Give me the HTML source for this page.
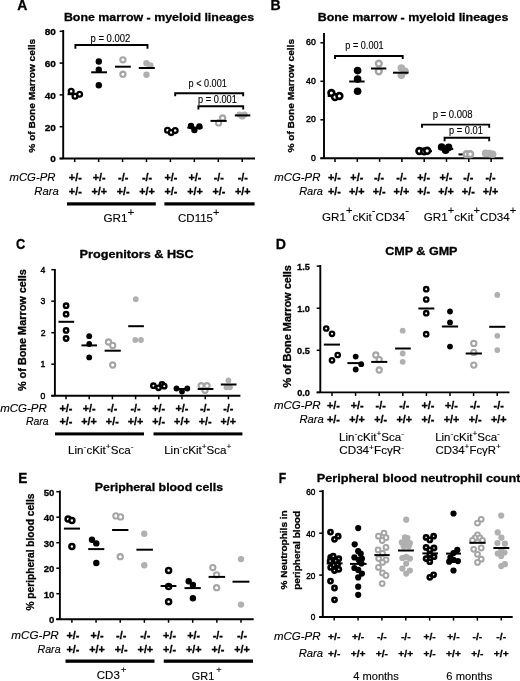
<!DOCTYPE html>
<html><head><meta charset="utf-8"><style>
html,body{margin:0;padding:0;background:#fff;width:520px;height:681px;overflow:hidden}
svg{display:block;filter:grayscale(1)}
text{font-family:"Liberation Sans", sans-serif}
text[font-weight=bold]{stroke:#000;stroke-width:0.3px}
text[font-weight=normal]{stroke:#000;stroke-width:0.12px}
text[font-weight=mid]{stroke:#000;stroke-width:0.45px}
</style></head><body>
<svg width="520" height="681" viewBox="0 0 520 681" font-family='"Liberation Sans", sans-serif'>
<rect width="520" height="681" fill="#fff"/>
<text transform="translate(17.35,10.10) scale(0.9254,1)" font-size="15" font-weight="bold" font-style="normal" fill="#000">A</text>
<text transform="translate(63.89,20.50) scale(1.0698,1)" font-size="11.6" font-weight="bold" font-style="normal" fill="#000">Bone marrow - myeloid lineages</text>
<line x1="63.20" y1="30.00" x2="63.20" y2="158.50" stroke="#000" stroke-width="1.9"/>
<line x1="59.60" y1="158.50" x2="255.00" y2="158.50" stroke="#000" stroke-width="1.9"/>
<line x1="59.60" y1="158.50" x2="63.20" y2="158.50" stroke="#000" stroke-width="1.5"/>
<text transform="translate(50.33,162.40) scale(1.0800,1)" font-size="9.3" font-weight="bold" font-style="normal" fill="#000">0</text>
<line x1="59.60" y1="126.70" x2="63.20" y2="126.70" stroke="#000" stroke-width="1.5"/>
<text transform="translate(44.75,130.60) scale(1.0800,1)" font-size="9.3" font-weight="bold" font-style="normal" fill="#000">20</text>
<line x1="59.60" y1="94.90" x2="63.20" y2="94.90" stroke="#000" stroke-width="1.5"/>
<text transform="translate(44.75,98.80) scale(1.0800,1)" font-size="9.3" font-weight="bold" font-style="normal" fill="#000">40</text>
<line x1="59.60" y1="63.10" x2="63.20" y2="63.10" stroke="#000" stroke-width="1.5"/>
<text transform="translate(44.75,67.00) scale(1.0800,1)" font-size="9.3" font-weight="bold" font-style="normal" fill="#000">60</text>
<line x1="59.60" y1="31.30" x2="63.20" y2="31.30" stroke="#000" stroke-width="1.5"/>
<text transform="translate(44.75,35.20) scale(1.0800,1)" font-size="9.3" font-weight="bold" font-style="normal" fill="#000">80</text>
<line x1="74.70" y1="158.50" x2="74.70" y2="162.10" stroke="#000" stroke-width="1.5"/>
<line x1="98.63" y1="158.50" x2="98.63" y2="162.10" stroke="#000" stroke-width="1.5"/>
<line x1="122.56" y1="158.50" x2="122.56" y2="162.10" stroke="#000" stroke-width="1.5"/>
<line x1="146.49" y1="158.50" x2="146.49" y2="162.10" stroke="#000" stroke-width="1.5"/>
<line x1="170.42" y1="158.50" x2="170.42" y2="162.10" stroke="#000" stroke-width="1.5"/>
<line x1="194.35" y1="158.50" x2="194.35" y2="162.10" stroke="#000" stroke-width="1.5"/>
<line x1="218.28" y1="158.50" x2="218.28" y2="162.10" stroke="#000" stroke-width="1.5"/>
<line x1="242.21" y1="158.50" x2="242.21" y2="162.10" stroke="#000" stroke-width="1.5"/>
<text transform="translate(34.60,152.65) rotate(-90) scale(1.0350,1)" font-size="9.8" font-weight="bold">% of Bone Marrow cells</text>
<text transform="translate(68.85,181.30) scale(1.0800,1)" font-size="10.0" font-weight="bold" font-style="normal" fill="#000">+/-</text>
<text transform="translate(68.85,194.60) scale(1.0800,1)" font-size="10.0" font-weight="bold" font-style="normal" fill="#000">+/-</text>
<text transform="translate(92.78,181.30) scale(1.0800,1)" font-size="10.0" font-weight="bold" font-style="normal" fill="#000">+/-</text>
<text transform="translate(91.43,194.60) scale(1.0800,1)" font-size="10.0" font-weight="bold" font-style="normal" fill="#000">+/+</text>
<text transform="translate(118.06,181.30) scale(1.0800,1)" font-size="10.0" font-weight="bold" font-style="normal" fill="#000">-/-</text>
<text transform="translate(116.71,194.60) scale(1.0800,1)" font-size="10.0" font-weight="bold" font-style="normal" fill="#000">+/-</text>
<text transform="translate(141.99,181.30) scale(1.0800,1)" font-size="10.0" font-weight="bold" font-style="normal" fill="#000">-/-</text>
<text transform="translate(139.29,194.60) scale(1.0800,1)" font-size="10.0" font-weight="bold" font-style="normal" fill="#000">+/+</text>
<text transform="translate(164.57,181.30) scale(1.0800,1)" font-size="10.0" font-weight="bold" font-style="normal" fill="#000">+/-</text>
<text transform="translate(164.57,194.60) scale(1.0800,1)" font-size="10.0" font-weight="bold" font-style="normal" fill="#000">+/-</text>
<text transform="translate(188.50,181.30) scale(1.0800,1)" font-size="10.0" font-weight="bold" font-style="normal" fill="#000">+/-</text>
<text transform="translate(187.15,194.60) scale(1.0800,1)" font-size="10.0" font-weight="bold" font-style="normal" fill="#000">+/+</text>
<text transform="translate(213.78,181.30) scale(1.0800,1)" font-size="10.0" font-weight="bold" font-style="normal" fill="#000">-/-</text>
<text transform="translate(212.43,194.60) scale(1.0800,1)" font-size="10.0" font-weight="bold" font-style="normal" fill="#000">+/-</text>
<text transform="translate(237.71,181.30) scale(1.0800,1)" font-size="10.0" font-weight="bold" font-style="normal" fill="#000">-/-</text>
<text transform="translate(235.01,194.60) scale(1.0800,1)" font-size="10.0" font-weight="bold" font-style="normal" fill="#000">+/+</text>
<text transform="translate(9.53,181.30) scale(1.0992,1)" font-size="10.3" font-weight="normal" font-style="italic" fill="#000">mCG-PR</text>
<text transform="translate(34.36,194.60) scale(1.0957,1)" font-size="10.3" font-weight="normal" font-style="italic" fill="#000">Rara</text>
<rect x="67.00" y="202.30" width="88.80" height="3.20" fill="#000"/>
<rect x="164.40" y="202.30" width="90.20" height="3.20" fill="#000"/>
<text transform="translate(103.51,221.50) scale(1.0661,1)" font-size="11" font-weight="normal"><tspan font-size="11">GR1</tspan><tspan font-size="11" dx="0.0" baseline-shift="6.2">+</tspan></text>
<text transform="translate(178.02,222.00) scale(1.0469,1)" font-size="11" font-weight="normal"><tspan font-size="11">CD115</tspan><tspan font-size="10.5" dx="0.0" baseline-shift="6.2">+</tspan></text>
<line x1="67.50" y1="94.20" x2="82.50" y2="94.20" stroke="#000" stroke-width="2"/>
<circle cx="71.20" cy="91.20" r="2.4" fill="#fff" stroke="#000" stroke-width="2.3"/>
<circle cx="75.00" cy="96.20" r="2.4" fill="#fff" stroke="#000" stroke-width="2.3"/>
<circle cx="79.60" cy="94.20" r="2.4" fill="#fff" stroke="#000" stroke-width="2.3"/>
<circle cx="98.80" cy="61.50" r="3.2" fill="#000"/>
<circle cx="98.80" cy="69.80" r="3.2" fill="#000"/>
<circle cx="98.80" cy="85.20" r="3.2" fill="#000"/>
<line x1="91.20" y1="72.30" x2="107.00" y2="72.30" stroke="#000" stroke-width="2"/>
<circle cx="122.90" cy="59.80" r="2.6" fill="#fff" stroke="#a5a5a5" stroke-width="2.1"/>
<circle cx="122.90" cy="74.20" r="2.6" fill="#fff" stroke="#a5a5a5" stroke-width="2.1"/>
<line x1="115.00" y1="66.70" x2="130.80" y2="66.70" stroke="#000" stroke-width="2"/>
<circle cx="146.50" cy="63.30" r="3.2" fill="#b0b0b0"/>
<circle cx="150.40" cy="65.50" r="3.2" fill="#b0b0b0"/>
<circle cx="146.50" cy="74.80" r="3.2" fill="#b0b0b0"/>
<line x1="138.80" y1="68.00" x2="154.80" y2="68.00" stroke="#000" stroke-width="2"/>
<circle cx="167.50" cy="130.20" r="2.4" fill="#fff" stroke="#000" stroke-width="2.3"/>
<circle cx="171.20" cy="132.60" r="2.4" fill="#fff" stroke="#000" stroke-width="2.3"/>
<circle cx="175.20" cy="130.60" r="2.4" fill="#fff" stroke="#000" stroke-width="2.3"/>
<circle cx="191.00" cy="126.00" r="3.2" fill="#000"/>
<circle cx="194.40" cy="130.00" r="3.2" fill="#000"/>
<circle cx="199.40" cy="126.50" r="3.2" fill="#000"/>
<line x1="187.30" y1="127.60" x2="202.50" y2="127.60" stroke="#000" stroke-width="2"/>
<circle cx="222.60" cy="118.00" r="2.6" fill="#fff" stroke="#a5a5a5" stroke-width="2.1"/>
<circle cx="218.60" cy="122.90" r="2.6" fill="#fff" stroke="#a5a5a5" stroke-width="2.1"/>
<line x1="210.50" y1="120.90" x2="226.70" y2="120.90" stroke="#000" stroke-width="2"/>
<circle cx="239.60" cy="114.60" r="3.2" fill="#b0b0b0"/>
<circle cx="244.60" cy="114.60" r="3.2" fill="#b0b0b0"/>
<circle cx="242.20" cy="116.40" r="3.2" fill="#b0b0b0"/>
<line x1="234.80" y1="115.40" x2="250.30" y2="115.40" stroke="#000" stroke-width="2"/>
<path d="M75.40,48.80 L75.40,45.00 L147.50,45.00 L147.50,48.80" fill="none" stroke="#000" stroke-width="1.9"/>
<text transform="translate(90.48,41.50) scale(0.9323,1)" font-size="10.2" font-weight="normal" font-style="normal" fill="#000">p = 0.002</text>
<path d="M175.20,96.30 L175.20,93.20 L243.20,93.20 L243.20,96.30" fill="none" stroke="#000" stroke-width="1.9"/>
<text transform="translate(188.61,87.20) scale(0.8928,1)" font-size="10.2" font-weight="normal" font-style="normal" fill="#000">p &lt; 0.001</text>
<path d="M198.40,109.60 L198.40,106.30 L243.20,106.30 L243.20,109.60" fill="none" stroke="#000" stroke-width="1.9"/>
<text transform="translate(198.10,102.70) scale(0.9072,1)" font-size="10.2" font-weight="normal" font-style="normal" fill="#000">p = 0.001</text>
<text transform="translate(270.48,10.10) scale(0.9399,1)" font-size="15" font-weight="bold" font-style="normal" fill="#000">B</text>
<text transform="translate(317.69,20.80) scale(1.0738,1)" font-size="11.6" font-weight="bold" font-style="normal" fill="#000">Bone marrow - myeloid lineages</text>
<line x1="324.00" y1="33.00" x2="324.00" y2="158.30" stroke="#000" stroke-width="1.9"/>
<line x1="320.40" y1="158.30" x2="503.30" y2="158.30" stroke="#000" stroke-width="1.9"/>
<line x1="320.40" y1="158.30" x2="324.00" y2="158.30" stroke="#000" stroke-width="1.5"/>
<text transform="translate(310.96,160.70) scale(0.9700,1)" font-size="9.0" font-weight="mid" font-style="normal" fill="#000">0</text>
<line x1="320.40" y1="119.80" x2="324.00" y2="119.80" stroke="#000" stroke-width="1.5"/>
<text transform="translate(306.12,122.20) scale(0.9700,1)" font-size="9.0" font-weight="mid" font-style="normal" fill="#000">20</text>
<line x1="320.40" y1="81.30" x2="324.00" y2="81.30" stroke="#000" stroke-width="1.5"/>
<text transform="translate(306.12,83.70) scale(0.9700,1)" font-size="9.0" font-weight="mid" font-style="normal" fill="#000">40</text>
<line x1="320.40" y1="42.80" x2="324.00" y2="42.80" stroke="#000" stroke-width="1.5"/>
<text transform="translate(306.12,45.20) scale(0.9700,1)" font-size="9.0" font-weight="mid" font-style="normal" fill="#000">60</text>
<line x1="335.00" y1="158.30" x2="335.00" y2="161.90" stroke="#000" stroke-width="1.5"/>
<line x1="357.30" y1="158.30" x2="357.30" y2="161.90" stroke="#000" stroke-width="1.5"/>
<line x1="379.60" y1="158.30" x2="379.60" y2="161.90" stroke="#000" stroke-width="1.5"/>
<line x1="401.90" y1="158.30" x2="401.90" y2="161.90" stroke="#000" stroke-width="1.5"/>
<line x1="424.20" y1="158.30" x2="424.20" y2="161.90" stroke="#000" stroke-width="1.5"/>
<line x1="446.50" y1="158.30" x2="446.50" y2="161.90" stroke="#000" stroke-width="1.5"/>
<line x1="468.80" y1="158.30" x2="468.80" y2="161.90" stroke="#000" stroke-width="1.5"/>
<line x1="491.10" y1="158.30" x2="491.10" y2="161.90" stroke="#000" stroke-width="1.5"/>
<text transform="translate(294.40,152.55) rotate(-90) scale(1.0341,1)" font-size="9.8" font-weight="bold">% of Bone Marrow cells</text>
<text transform="translate(328.05,181.30) scale(1.0800,1)" font-size="10.0" font-weight="bold" font-style="normal" fill="#000">+/-</text>
<text transform="translate(328.05,195.40) scale(1.0800,1)" font-size="10.0" font-weight="bold" font-style="normal" fill="#000">+/-</text>
<text transform="translate(350.35,181.30) scale(1.0800,1)" font-size="10.0" font-weight="bold" font-style="normal" fill="#000">+/-</text>
<text transform="translate(349.00,195.40) scale(1.0800,1)" font-size="10.0" font-weight="bold" font-style="normal" fill="#000">+/+</text>
<text transform="translate(374.00,181.30) scale(1.0800,1)" font-size="10.0" font-weight="bold" font-style="normal" fill="#000">-/-</text>
<text transform="translate(372.65,195.40) scale(1.0800,1)" font-size="10.0" font-weight="bold" font-style="normal" fill="#000">+/-</text>
<text transform="translate(396.30,181.30) scale(1.0800,1)" font-size="10.0" font-weight="bold" font-style="normal" fill="#000">-/-</text>
<text transform="translate(393.60,195.40) scale(1.0800,1)" font-size="10.0" font-weight="bold" font-style="normal" fill="#000">+/+</text>
<text transform="translate(417.25,181.30) scale(1.0800,1)" font-size="10.0" font-weight="bold" font-style="normal" fill="#000">+/-</text>
<text transform="translate(417.25,195.40) scale(1.0800,1)" font-size="10.0" font-weight="bold" font-style="normal" fill="#000">+/-</text>
<text transform="translate(439.55,181.30) scale(1.0800,1)" font-size="10.0" font-weight="bold" font-style="normal" fill="#000">+/-</text>
<text transform="translate(438.20,195.40) scale(1.0800,1)" font-size="10.0" font-weight="bold" font-style="normal" fill="#000">+/+</text>
<text transform="translate(463.20,181.30) scale(1.0800,1)" font-size="10.0" font-weight="bold" font-style="normal" fill="#000">-/-</text>
<text transform="translate(461.85,195.40) scale(1.0800,1)" font-size="10.0" font-weight="bold" font-style="normal" fill="#000">+/-</text>
<text transform="translate(485.50,181.30) scale(1.0800,1)" font-size="10.0" font-weight="bold" font-style="normal" fill="#000">-/-</text>
<text transform="translate(482.80,195.40) scale(1.0800,1)" font-size="10.0" font-weight="bold" font-style="normal" fill="#000">+/+</text>
<text transform="translate(274.33,181.30) scale(1.1040,1)" font-size="10.3" font-weight="normal" font-style="italic" fill="#000">mCG-PR</text>
<text transform="translate(299.17,195.40) scale(1.0680,1)" font-size="10.3" font-weight="normal" font-style="italic" fill="#000">Rara</text>
<text transform="translate(322.02,221.20) scale(1.0578,1)" font-size="11" font-weight="normal"><tspan font-size="11">GR1</tspan><tspan font-size="10.5" dx="0.0" baseline-shift="6.5">+</tspan><tspan font-size="11">cKit</tspan><tspan font-size="10.5" dx="0.0" baseline-shift="6.5">-</tspan><tspan font-size="11">CD34</tspan><tspan font-size="10.5" dx="0.0" baseline-shift="6.5">-</tspan></text>
<text transform="translate(423.82,221.20) scale(1.0566,1)" font-size="11" font-weight="normal"><tspan font-size="11">GR1</tspan><tspan font-size="10.5" dx="0.0" baseline-shift="6.5">+</tspan><tspan font-size="11">cKit</tspan><tspan font-size="10.5" dx="0.0" baseline-shift="6.5">+</tspan><tspan font-size="11">CD34</tspan><tspan font-size="10.5" dx="0.0" baseline-shift="6.5">+</tspan></text>
<line x1="327.70" y1="96.00" x2="343.00" y2="96.00" stroke="#000" stroke-width="2"/>
<circle cx="331.40" cy="93.00" r="2.9" fill="#fff" stroke="#000" stroke-width="2.6"/>
<circle cx="335.00" cy="97.10" r="2.9" fill="#fff" stroke="#000" stroke-width="2.6"/>
<circle cx="339.40" cy="96.00" r="2.9" fill="#fff" stroke="#000" stroke-width="2.6"/>
<circle cx="357.60" cy="70.60" r="3.8" fill="#000"/>
<circle cx="357.60" cy="79.10" r="3.8" fill="#000"/>
<circle cx="357.60" cy="91.30" r="3.8" fill="#000"/>
<line x1="349.20" y1="81.50" x2="364.60" y2="81.50" stroke="#000" stroke-width="2"/>
<circle cx="378.80" cy="63.60" r="2.9" fill="#fff" stroke="#a5a5a5" stroke-width="2.5"/>
<circle cx="378.80" cy="71.30" r="2.9" fill="#fff" stroke="#a5a5a5" stroke-width="2.5"/>
<line x1="371.00" y1="68.50" x2="386.30" y2="68.50" stroke="#000" stroke-width="2"/>
<circle cx="401.40" cy="68.10" r="3.8" fill="#b0b0b0"/>
<circle cx="405.00" cy="71.30" r="3.8" fill="#b0b0b0"/>
<circle cx="401.40" cy="75.30" r="3.8" fill="#b0b0b0"/>
<line x1="393.00" y1="72.70" x2="408.50" y2="72.70" stroke="#000" stroke-width="2"/>
<line x1="416.50" y1="151.20" x2="432.00" y2="151.20" stroke="#000" stroke-width="2"/>
<circle cx="419.40" cy="151.00" r="2.9" fill="#fff" stroke="#000" stroke-width="2.6"/>
<circle cx="424.20" cy="151.40" r="2.9" fill="#fff" stroke="#000" stroke-width="2.6"/>
<circle cx="427.20" cy="150.80" r="2.9" fill="#fff" stroke="#000" stroke-width="2.6"/>
<circle cx="441.60" cy="147.00" r="3.8" fill="#000"/>
<circle cx="445.60" cy="150.20" r="3.8" fill="#000"/>
<circle cx="448.60" cy="147.40" r="3.8" fill="#000"/>
<line x1="438.80" y1="149.00" x2="453.20" y2="149.00" stroke="#000" stroke-width="2"/>
<line x1="458.50" y1="154.40" x2="464.00" y2="154.40" stroke="#000" stroke-width="2"/>
<circle cx="466.50" cy="154.20" r="2.9" fill="#fff" stroke="#a5a5a5" stroke-width="2.5"/>
<circle cx="470.20" cy="154.20" r="2.9" fill="#fff" stroke="#a5a5a5" stroke-width="2.5"/>
<circle cx="485.60" cy="153.40" r="3.8" fill="#b0b0b0"/>
<circle cx="489.40" cy="153.60" r="3.8" fill="#b0b0b0"/>
<circle cx="492.60" cy="154.20" r="3.8" fill="#b0b0b0"/>
<path d="M335.00,59.00 L335.00,56.00 L402.70,56.00 L402.70,59.00" fill="none" stroke="#000" stroke-width="1.9"/>
<text transform="translate(345.31,49.20) scale(0.8952,1)" font-size="10.2" font-weight="normal" font-style="normal" fill="#000">p = 0.001</text>
<path d="M422.00,127.80 L422.00,124.60 L489.20,124.60 L489.20,127.80" fill="none" stroke="#000" stroke-width="1.9"/>
<text transform="translate(432.68,117.50) scale(0.9325,1)" font-size="10.2" font-weight="normal" font-style="normal" fill="#000">p = 0.008</text>
<path d="M444.60,141.20 L444.60,137.70 L489.20,137.70 L489.20,141.20" fill="none" stroke="#000" stroke-width="1.9"/>
<text transform="translate(449.10,133.80) scale(0.9082,1)" font-size="10.2" font-weight="normal" font-style="normal" fill="#000">p = 0.01</text>
<text transform="translate(15.89,249.00) scale(0.8550,1)" font-size="15" font-weight="bold" font-style="normal" fill="#000">C</text>
<text transform="translate(79.47,257.50) scale(1.0948,1)" font-size="11.6" font-weight="bold" font-style="normal" fill="#000">Progenitors &amp; HSC</text>
<line x1="54.90" y1="269.00" x2="54.90" y2="395.70" stroke="#000" stroke-width="1.9"/>
<line x1="51.30" y1="395.70" x2="240.40" y2="395.70" stroke="#000" stroke-width="1.9"/>
<line x1="51.30" y1="395.70" x2="54.90" y2="395.70" stroke="#000" stroke-width="1.5"/>
<text transform="translate(40.50,398.90) scale(0.9200,1)" font-size="9.4" font-weight="mid" font-style="normal" fill="#000">0</text>
<line x1="51.30" y1="364.20" x2="54.90" y2="364.20" stroke="#000" stroke-width="1.5"/>
<text transform="translate(40.59,367.40) scale(0.9200,1)" font-size="9.4" font-weight="mid" font-style="normal" fill="#000">1</text>
<line x1="51.30" y1="332.70" x2="54.90" y2="332.70" stroke="#000" stroke-width="1.5"/>
<text transform="translate(40.63,335.90) scale(0.9200,1)" font-size="9.4" font-weight="mid" font-style="normal" fill="#000">2</text>
<line x1="51.30" y1="301.20" x2="54.90" y2="301.20" stroke="#000" stroke-width="1.5"/>
<text transform="translate(40.55,304.40) scale(0.9200,1)" font-size="9.4" font-weight="mid" font-style="normal" fill="#000">3</text>
<line x1="51.30" y1="269.70" x2="54.90" y2="269.70" stroke="#000" stroke-width="1.5"/>
<text transform="translate(40.46,272.90) scale(0.9200,1)" font-size="9.4" font-weight="mid" font-style="normal" fill="#000">4</text>
<line x1="66.00" y1="395.70" x2="66.00" y2="399.30" stroke="#000" stroke-width="1.5"/>
<line x1="89.20" y1="395.70" x2="89.20" y2="399.30" stroke="#000" stroke-width="1.5"/>
<line x1="112.40" y1="395.70" x2="112.40" y2="399.30" stroke="#000" stroke-width="1.5"/>
<line x1="135.60" y1="395.70" x2="135.60" y2="399.30" stroke="#000" stroke-width="1.5"/>
<line x1="158.80" y1="395.70" x2="158.80" y2="399.30" stroke="#000" stroke-width="1.5"/>
<line x1="182.00" y1="395.70" x2="182.00" y2="399.30" stroke="#000" stroke-width="1.5"/>
<line x1="205.20" y1="395.70" x2="205.20" y2="399.30" stroke="#000" stroke-width="1.5"/>
<line x1="228.40" y1="395.70" x2="228.40" y2="399.30" stroke="#000" stroke-width="1.5"/>
<text transform="translate(26.00,391.07) rotate(-90) scale(1.0878,1)" font-size="10.0" font-weight="bold">% of Bone Marrow cells</text>
<text transform="translate(59.45,411.60) scale(1.0800,1)" font-size="10.0" font-weight="bold" font-style="normal" fill="#000">+/-</text>
<text transform="translate(59.45,425.00) scale(1.0800,1)" font-size="10.0" font-weight="bold" font-style="normal" fill="#000">+/-</text>
<text transform="translate(82.65,411.60) scale(1.0800,1)" font-size="10.0" font-weight="bold" font-style="normal" fill="#000">+/-</text>
<text transform="translate(81.30,425.00) scale(1.0800,1)" font-size="10.0" font-weight="bold" font-style="normal" fill="#000">+/+</text>
<text transform="translate(107.20,411.60) scale(1.0800,1)" font-size="10.0" font-weight="bold" font-style="normal" fill="#000">-/-</text>
<text transform="translate(105.85,425.00) scale(1.0800,1)" font-size="10.0" font-weight="bold" font-style="normal" fill="#000">+/-</text>
<text transform="translate(130.40,411.60) scale(1.0800,1)" font-size="10.0" font-weight="bold" font-style="normal" fill="#000">-/-</text>
<text transform="translate(127.70,425.00) scale(1.0800,1)" font-size="10.0" font-weight="bold" font-style="normal" fill="#000">+/+</text>
<text transform="translate(152.25,411.60) scale(1.0800,1)" font-size="10.0" font-weight="bold" font-style="normal" fill="#000">+/-</text>
<text transform="translate(152.25,425.00) scale(1.0800,1)" font-size="10.0" font-weight="bold" font-style="normal" fill="#000">+/-</text>
<text transform="translate(175.45,411.60) scale(1.0800,1)" font-size="10.0" font-weight="bold" font-style="normal" fill="#000">+/-</text>
<text transform="translate(174.10,425.00) scale(1.0800,1)" font-size="10.0" font-weight="bold" font-style="normal" fill="#000">+/+</text>
<text transform="translate(200.00,411.60) scale(1.0800,1)" font-size="10.0" font-weight="bold" font-style="normal" fill="#000">-/-</text>
<text transform="translate(198.65,425.00) scale(1.0800,1)" font-size="10.0" font-weight="bold" font-style="normal" fill="#000">+/-</text>
<text transform="translate(223.20,411.60) scale(1.0800,1)" font-size="10.0" font-weight="bold" font-style="normal" fill="#000">-/-</text>
<text transform="translate(220.50,425.00) scale(1.0800,1)" font-size="10.0" font-weight="bold" font-style="normal" fill="#000">+/+</text>
<text transform="translate(0.13,411.60) scale(1.1161,1)" font-size="10.3" font-weight="normal" font-style="italic" fill="#000">mCG-PR</text>
<text transform="translate(25.99,425.00) scale(1.0125,1)" font-size="10.3" font-weight="normal" font-style="italic" fill="#000">Rara</text>
<rect x="55.00" y="432.40" width="89.00" height="3.00" fill="#000"/>
<rect x="153.50" y="432.40" width="88.90" height="3.00" fill="#000"/>
<text transform="translate(68.07,453.50) scale(1.1284,1)" font-size="10.3" font-weight="normal"><tspan font-size="10.3">Lin</tspan><tspan font-size="7.5" dx="0.0" baseline-shift="4.5">-</tspan><tspan font-size="10.3">cKit</tspan><tspan font-size="7.5" dx="0.0" baseline-shift="4.5">+</tspan><tspan font-size="10.3">Sca</tspan><tspan font-size="7.5" dx="0.0" baseline-shift="4.5">-</tspan></text>
<text transform="translate(164.17,454.00) scale(1.1238,1)" font-size="10.3" font-weight="normal"><tspan font-size="10.3">Lin</tspan><tspan font-size="7.5" dx="0.0" baseline-shift="4.5">-</tspan><tspan font-size="10.3">cKit</tspan><tspan font-size="7.5" dx="0.0" baseline-shift="4.5">+</tspan><tspan font-size="10.3">Sca</tspan><tspan font-size="7.5" dx="0.0" baseline-shift="4.5">+</tspan></text>
<circle cx="66.10" cy="305.70" r="2.2" fill="#fff" stroke="#000" stroke-width="2.4"/>
<circle cx="66.10" cy="314.20" r="2.2" fill="#fff" stroke="#000" stroke-width="2.4"/>
<circle cx="66.10" cy="330.40" r="2.2" fill="#fff" stroke="#000" stroke-width="2.4"/>
<circle cx="66.10" cy="338.50" r="2.2" fill="#fff" stroke="#000" stroke-width="2.4"/>
<line x1="58.50" y1="321.80" x2="74.20" y2="321.80" stroke="#000" stroke-width="2"/>
<circle cx="89.20" cy="336.20" r="2.9" fill="#000"/>
<circle cx="89.20" cy="344.00" r="2.9" fill="#000"/>
<circle cx="89.20" cy="357.40" r="2.9" fill="#000"/>
<line x1="81.50" y1="345.40" x2="97.00" y2="345.40" stroke="#000" stroke-width="2"/>
<circle cx="108.50" cy="342.00" r="2.6" fill="#fff" stroke="#a5a5a5" stroke-width="2.1"/>
<circle cx="112.70" cy="345.40" r="2.6" fill="#fff" stroke="#a5a5a5" stroke-width="2.1"/>
<circle cx="112.70" cy="365.00" r="2.6" fill="#fff" stroke="#a5a5a5" stroke-width="2.1"/>
<line x1="104.60" y1="350.70" x2="120.80" y2="350.70" stroke="#000" stroke-width="2"/>
<circle cx="135.80" cy="299.20" r="2.9" fill="#b0b0b0"/>
<circle cx="135.30" cy="340.00" r="2.9" fill="#b0b0b0"/>
<circle cx="141.00" cy="340.00" r="2.9" fill="#b0b0b0"/>
<line x1="128.20" y1="326.20" x2="143.90" y2="326.20" stroke="#000" stroke-width="2"/>
<line x1="151.50" y1="386.20" x2="167.00" y2="386.20" stroke="#000" stroke-width="2"/>
<circle cx="153.40" cy="385.70" r="2.2" fill="#fff" stroke="#000" stroke-width="2.4"/>
<circle cx="158.50" cy="387.80" r="2.2" fill="#fff" stroke="#000" stroke-width="2.4"/>
<circle cx="162.00" cy="384.50" r="2.2" fill="#fff" stroke="#000" stroke-width="2.4"/>
<circle cx="164.20" cy="386.20" r="2.2" fill="#fff" stroke="#000" stroke-width="2.4"/>
<circle cx="176.50" cy="388.50" r="2.9" fill="#000"/>
<circle cx="182.00" cy="391.50" r="2.9" fill="#000"/>
<circle cx="187.30" cy="388.50" r="2.9" fill="#000"/>
<line x1="174.50" y1="389.00" x2="190.00" y2="389.00" stroke="#000" stroke-width="2"/>
<circle cx="201.20" cy="385.70" r="2.6" fill="#fff" stroke="#a5a5a5" stroke-width="2.1"/>
<circle cx="207.00" cy="385.70" r="2.6" fill="#fff" stroke="#a5a5a5" stroke-width="2.1"/>
<circle cx="205.00" cy="390.30" r="2.6" fill="#fff" stroke="#a5a5a5" stroke-width="2.1"/>
<line x1="197.70" y1="389.00" x2="213.40" y2="389.00" stroke="#000" stroke-width="2"/>
<circle cx="228.40" cy="380.40" r="2.9" fill="#b0b0b0"/>
<circle cx="226.50" cy="387.30" r="2.9" fill="#b0b0b0"/>
<circle cx="230.00" cy="387.30" r="2.9" fill="#b0b0b0"/>
<line x1="220.80" y1="384.50" x2="236.50" y2="384.50" stroke="#000" stroke-width="2"/>
<text transform="translate(275.68,249.20) scale(0.9431,1)" font-size="15" font-weight="bold" font-style="normal" fill="#000">D</text>
<text transform="translate(385.20,255.00) scale(1.0833,1)" font-size="11.6" font-weight="bold" font-style="normal" fill="#000">CMP &amp; GMP</text>
<line x1="320.30" y1="265.00" x2="320.30" y2="392.40" stroke="#000" stroke-width="1.9"/>
<line x1="316.70" y1="392.40" x2="509.50" y2="392.40" stroke="#000" stroke-width="1.9"/>
<line x1="316.70" y1="392.40" x2="320.30" y2="392.40" stroke="#000" stroke-width="1.5"/>
<text transform="translate(297.21,395.80) scale(1.0200,1)" font-size="9.0" font-weight="bold" font-style="normal" fill="#000">0.0</text>
<line x1="316.70" y1="350.30" x2="320.30" y2="350.30" stroke="#000" stroke-width="1.5"/>
<text transform="translate(297.07,353.70) scale(1.0200,1)" font-size="9.0" font-weight="bold" font-style="normal" fill="#000">0.5</text>
<line x1="316.70" y1="308.20" x2="320.30" y2="308.20" stroke="#000" stroke-width="1.5"/>
<text transform="translate(297.21,311.60) scale(1.0200,1)" font-size="9.0" font-weight="bold" font-style="normal" fill="#000">1.0</text>
<line x1="316.70" y1="266.10" x2="320.30" y2="266.10" stroke="#000" stroke-width="1.5"/>
<text transform="translate(297.07,269.50) scale(1.0200,1)" font-size="9.0" font-weight="bold" font-style="normal" fill="#000">1.5</text>
<line x1="332.00" y1="392.40" x2="332.00" y2="396.00" stroke="#000" stroke-width="1.5"/>
<line x1="355.60" y1="392.40" x2="355.60" y2="396.00" stroke="#000" stroke-width="1.5"/>
<line x1="379.20" y1="392.40" x2="379.20" y2="396.00" stroke="#000" stroke-width="1.5"/>
<line x1="402.80" y1="392.40" x2="402.80" y2="396.00" stroke="#000" stroke-width="1.5"/>
<line x1="426.40" y1="392.40" x2="426.40" y2="396.00" stroke="#000" stroke-width="1.5"/>
<line x1="450.00" y1="392.40" x2="450.00" y2="396.00" stroke="#000" stroke-width="1.5"/>
<line x1="473.60" y1="392.40" x2="473.60" y2="396.00" stroke="#000" stroke-width="1.5"/>
<line x1="497.20" y1="392.40" x2="497.20" y2="396.00" stroke="#000" stroke-width="1.5"/>
<text transform="translate(291.20,387.57) rotate(-90) scale(1.0596,1)" font-size="10.3" font-weight="bold">% of Bone Marrow cells</text>
<text transform="translate(327.05,409.30) scale(1.0800,1)" font-size="10.0" font-weight="bold" font-style="normal" fill="#000">+/-</text>
<text transform="translate(327.05,422.50) scale(1.0800,1)" font-size="10.0" font-weight="bold" font-style="normal" fill="#000">+/-</text>
<text transform="translate(350.65,409.30) scale(1.0800,1)" font-size="10.0" font-weight="bold" font-style="normal" fill="#000">+/-</text>
<text transform="translate(349.30,422.50) scale(1.0800,1)" font-size="10.0" font-weight="bold" font-style="normal" fill="#000">+/+</text>
<text transform="translate(375.60,409.30) scale(1.0800,1)" font-size="10.0" font-weight="bold" font-style="normal" fill="#000">-/-</text>
<text transform="translate(374.25,422.50) scale(1.0800,1)" font-size="10.0" font-weight="bold" font-style="normal" fill="#000">+/-</text>
<text transform="translate(399.20,409.30) scale(1.0800,1)" font-size="10.0" font-weight="bold" font-style="normal" fill="#000">-/-</text>
<text transform="translate(396.50,422.50) scale(1.0800,1)" font-size="10.0" font-weight="bold" font-style="normal" fill="#000">+/+</text>
<text transform="translate(421.45,409.30) scale(1.0800,1)" font-size="10.0" font-weight="bold" font-style="normal" fill="#000">+/-</text>
<text transform="translate(421.45,422.50) scale(1.0800,1)" font-size="10.0" font-weight="bold" font-style="normal" fill="#000">+/-</text>
<text transform="translate(445.05,409.30) scale(1.0800,1)" font-size="10.0" font-weight="bold" font-style="normal" fill="#000">+/-</text>
<text transform="translate(443.70,422.50) scale(1.0800,1)" font-size="10.0" font-weight="bold" font-style="normal" fill="#000">+/+</text>
<text transform="translate(470.00,409.30) scale(1.0800,1)" font-size="10.0" font-weight="bold" font-style="normal" fill="#000">-/-</text>
<text transform="translate(468.65,422.50) scale(1.0800,1)" font-size="10.0" font-weight="bold" font-style="normal" fill="#000">+/-</text>
<text transform="translate(493.60,409.30) scale(1.0800,1)" font-size="10.0" font-weight="bold" font-style="normal" fill="#000">-/-</text>
<text transform="translate(490.90,422.50) scale(1.0800,1)" font-size="10.0" font-weight="bold" font-style="normal" fill="#000">+/+</text>
<text transform="translate(273.88,409.30) scale(1.1174,1)" font-size="10.3" font-weight="normal" font-style="italic" fill="#000">mCG-PR</text>
<text transform="translate(299.46,422.50) scale(1.0934,1)" font-size="10.3" font-weight="normal" font-style="italic" fill="#000">Rara</text>
<text transform="translate(338.98,441.20) scale(1.1214,1)" font-size="10.3" font-weight="normal"><tspan font-size="10.3">Lin</tspan><tspan font-size="7.5" dx="0.0" baseline-shift="4.5">-</tspan><tspan font-size="10.3">cKit</tspan><tspan font-size="7.5" dx="0.0" baseline-shift="4.5">+</tspan><tspan font-size="10.3">Sca</tspan><tspan font-size="7.5" dx="0.0" baseline-shift="4.5">-</tspan></text>
<text transform="translate(339.32,454.20) scale(1.1311,1)" font-size="10.3" font-weight="normal"><tspan font-size="10.3">CD34</tspan><tspan font-size="7.5" dx="0.0" baseline-shift="4.5">+</tspan><tspan font-size="10.3">Fc&#947;R</tspan><tspan font-size="7.5" dx="0.0" baseline-shift="4.5">-</tspan></text>
<text transform="translate(435.18,441.20) scale(1.1144,1)" font-size="10.3" font-weight="normal"><tspan font-size="10.3">Lin</tspan><tspan font-size="7.5" dx="0.0" baseline-shift="4.5">-</tspan><tspan font-size="10.3">cKit</tspan><tspan font-size="7.5" dx="0.0" baseline-shift="4.5">+</tspan><tspan font-size="10.3">Sca</tspan><tspan font-size="7.5" dx="0.0" baseline-shift="4.5">-</tspan></text>
<text transform="translate(435.53,454.20) scale(1.1057,1)" font-size="10.3" font-weight="normal"><tspan font-size="10.3">CD34</tspan><tspan font-size="7.5" dx="0.0" baseline-shift="4.5">+</tspan><tspan font-size="10.3">Fc&#947;R</tspan><tspan font-size="7.5" dx="0.0" baseline-shift="4.5">+</tspan></text>
<circle cx="326.20" cy="328.50" r="2.2" fill="#fff" stroke="#000" stroke-width="2.3"/>
<circle cx="332.00" cy="333.80" r="2.2" fill="#fff" stroke="#000" stroke-width="2.3"/>
<circle cx="337.70" cy="355.00" r="2.2" fill="#fff" stroke="#000" stroke-width="2.3"/>
<circle cx="332.00" cy="360.30" r="2.2" fill="#fff" stroke="#000" stroke-width="2.3"/>
<line x1="323.80" y1="344.60" x2="340.00" y2="344.60" stroke="#000" stroke-width="2"/>
<circle cx="355.70" cy="356.60" r="2.9" fill="#000"/>
<circle cx="361.20" cy="364.20" r="2.9" fill="#000"/>
<circle cx="355.70" cy="369.50" r="2.9" fill="#000"/>
<line x1="347.40" y1="363.10" x2="363.00" y2="363.10" stroke="#000" stroke-width="2"/>
<circle cx="375.80" cy="355.00" r="2.6" fill="#fff" stroke="#a5a5a5" stroke-width="2.1"/>
<circle cx="379.20" cy="359.60" r="2.6" fill="#fff" stroke="#a5a5a5" stroke-width="2.1"/>
<circle cx="379.20" cy="370.00" r="2.6" fill="#fff" stroke="#a5a5a5" stroke-width="2.1"/>
<line x1="371.20" y1="361.90" x2="387.30" y2="361.90" stroke="#000" stroke-width="2"/>
<circle cx="402.70" cy="330.70" r="2.9" fill="#b0b0b0"/>
<circle cx="402.70" cy="353.50" r="2.9" fill="#b0b0b0"/>
<circle cx="402.70" cy="361.80" r="2.9" fill="#b0b0b0"/>
<line x1="395.10" y1="348.50" x2="410.80" y2="348.50" stroke="#000" stroke-width="2"/>
<circle cx="426.20" cy="289.20" r="2.2" fill="#fff" stroke="#000" stroke-width="2.3"/>
<circle cx="426.20" cy="299.50" r="2.2" fill="#fff" stroke="#000" stroke-width="2.3"/>
<circle cx="426.20" cy="313.20" r="2.2" fill="#fff" stroke="#000" stroke-width="2.3"/>
<circle cx="426.20" cy="334.20" r="2.2" fill="#fff" stroke="#000" stroke-width="2.3"/>
<line x1="418.40" y1="308.50" x2="434.30" y2="308.50" stroke="#000" stroke-width="2"/>
<circle cx="450.00" cy="311.50" r="2.9" fill="#000"/>
<circle cx="450.00" cy="322.40" r="2.9" fill="#000"/>
<circle cx="450.00" cy="346.60" r="2.9" fill="#000"/>
<line x1="441.90" y1="326.50" x2="458.10" y2="326.50" stroke="#000" stroke-width="2"/>
<circle cx="473.80" cy="343.40" r="2.6" fill="#fff" stroke="#a5a5a5" stroke-width="2.1"/>
<circle cx="473.80" cy="352.40" r="2.6" fill="#fff" stroke="#a5a5a5" stroke-width="2.1"/>
<circle cx="473.80" cy="365.10" r="2.6" fill="#fff" stroke="#a5a5a5" stroke-width="2.1"/>
<line x1="465.70" y1="353.50" x2="481.90" y2="353.50" stroke="#000" stroke-width="2"/>
<circle cx="497.30" cy="294.90" r="2.9" fill="#b0b0b0"/>
<circle cx="497.30" cy="335.80" r="2.9" fill="#b0b0b0"/>
<circle cx="497.30" cy="350.10" r="2.9" fill="#b0b0b0"/>
<line x1="489.20" y1="326.80" x2="505.40" y2="326.80" stroke="#000" stroke-width="2"/>
<text transform="translate(18.31,482.90) scale(0.9086,1)" font-size="15" font-weight="bold" font-style="normal" fill="#000">E</text>
<text transform="translate(94.80,490.70) scale(1.0653,1)" font-size="11.6" font-weight="bold" font-style="normal" fill="#000">Peripheral blood cells</text>
<line x1="59.90" y1="490.50" x2="59.90" y2="619.20" stroke="#000" stroke-width="1.9"/>
<line x1="56.30" y1="619.20" x2="253.70" y2="619.20" stroke="#000" stroke-width="1.9"/>
<line x1="56.30" y1="619.20" x2="59.90" y2="619.20" stroke="#000" stroke-width="1.5"/>
<text transform="translate(49.06,623.10) scale(1.0000,1)" font-size="9.6" font-weight="bold" font-style="normal" fill="#000">0</text>
<line x1="56.30" y1="593.70" x2="59.90" y2="593.70" stroke="#000" stroke-width="1.5"/>
<text transform="translate(43.73,597.60) scale(1.0000,1)" font-size="9.6" font-weight="bold" font-style="normal" fill="#000">10</text>
<line x1="56.30" y1="568.20" x2="59.90" y2="568.20" stroke="#000" stroke-width="1.5"/>
<text transform="translate(43.73,572.10) scale(1.0000,1)" font-size="9.6" font-weight="bold" font-style="normal" fill="#000">20</text>
<line x1="56.30" y1="542.70" x2="59.90" y2="542.70" stroke="#000" stroke-width="1.5"/>
<text transform="translate(43.73,546.60) scale(1.0000,1)" font-size="9.6" font-weight="bold" font-style="normal" fill="#000">30</text>
<line x1="56.30" y1="517.20" x2="59.90" y2="517.20" stroke="#000" stroke-width="1.5"/>
<text transform="translate(43.73,521.10) scale(1.0000,1)" font-size="9.6" font-weight="bold" font-style="normal" fill="#000">40</text>
<line x1="56.30" y1="491.70" x2="59.90" y2="491.70" stroke="#000" stroke-width="1.5"/>
<text transform="translate(43.73,495.60) scale(1.0000,1)" font-size="9.6" font-weight="bold" font-style="normal" fill="#000">50</text>
<line x1="71.90" y1="619.20" x2="71.90" y2="622.80" stroke="#000" stroke-width="1.5"/>
<line x1="96.06" y1="619.20" x2="96.06" y2="622.80" stroke="#000" stroke-width="1.5"/>
<line x1="120.22" y1="619.20" x2="120.22" y2="622.80" stroke="#000" stroke-width="1.5"/>
<line x1="144.38" y1="619.20" x2="144.38" y2="622.80" stroke="#000" stroke-width="1.5"/>
<line x1="168.54" y1="619.20" x2="168.54" y2="622.80" stroke="#000" stroke-width="1.5"/>
<line x1="192.70" y1="619.20" x2="192.70" y2="622.80" stroke="#000" stroke-width="1.5"/>
<line x1="216.86" y1="619.20" x2="216.86" y2="622.80" stroke="#000" stroke-width="1.5"/>
<line x1="241.02" y1="619.20" x2="241.02" y2="622.80" stroke="#000" stroke-width="1.5"/>
<text transform="translate(33.80,610.55) rotate(-90) scale(1.0179,1)" font-size="10.0" font-weight="bold">% peripheral blood cells</text>
<text transform="translate(66.45,639.00) scale(1.0800,1)" font-size="10.0" font-weight="bold" font-style="normal" fill="#000">+/-</text>
<text transform="translate(66.45,652.50) scale(1.0800,1)" font-size="10.0" font-weight="bold" font-style="normal" fill="#000">+/-</text>
<text transform="translate(90.61,639.00) scale(1.0800,1)" font-size="10.0" font-weight="bold" font-style="normal" fill="#000">+/-</text>
<text transform="translate(89.26,652.50) scale(1.0800,1)" font-size="10.0" font-weight="bold" font-style="normal" fill="#000">+/+</text>
<text transform="translate(116.12,639.00) scale(1.0800,1)" font-size="10.0" font-weight="bold" font-style="normal" fill="#000">-/-</text>
<text transform="translate(114.77,652.50) scale(1.0800,1)" font-size="10.0" font-weight="bold" font-style="normal" fill="#000">+/-</text>
<text transform="translate(140.28,639.00) scale(1.0800,1)" font-size="10.0" font-weight="bold" font-style="normal" fill="#000">-/-</text>
<text transform="translate(137.58,652.50) scale(1.0800,1)" font-size="10.0" font-weight="bold" font-style="normal" fill="#000">+/+</text>
<text transform="translate(163.09,639.00) scale(1.0800,1)" font-size="10.0" font-weight="bold" font-style="normal" fill="#000">+/-</text>
<text transform="translate(163.09,652.50) scale(1.0800,1)" font-size="10.0" font-weight="bold" font-style="normal" fill="#000">+/-</text>
<text transform="translate(187.25,639.00) scale(1.0800,1)" font-size="10.0" font-weight="bold" font-style="normal" fill="#000">+/-</text>
<text transform="translate(185.90,652.50) scale(1.0800,1)" font-size="10.0" font-weight="bold" font-style="normal" fill="#000">+/+</text>
<text transform="translate(212.76,639.00) scale(1.0800,1)" font-size="10.0" font-weight="bold" font-style="normal" fill="#000">-/-</text>
<text transform="translate(211.41,652.50) scale(1.0800,1)" font-size="10.0" font-weight="bold" font-style="normal" fill="#000">+/-</text>
<text transform="translate(236.92,639.00) scale(1.0800,1)" font-size="10.0" font-weight="bold" font-style="normal" fill="#000">-/-</text>
<text transform="translate(234.22,652.50) scale(1.0800,1)" font-size="10.0" font-weight="bold" font-style="normal" fill="#000">+/+</text>
<text transform="translate(11.37,639.00) scale(1.1355,1)" font-size="10.3" font-weight="normal" font-style="italic" fill="#000">mCG-PR</text>
<text transform="translate(37.48,652.50) scale(1.0356,1)" font-size="10.3" font-weight="normal" font-style="italic" fill="#000">Rara</text>
<rect x="65.50" y="659.50" width="89.00" height="3.30" fill="#000"/>
<rect x="163.75" y="659.50" width="89.25" height="3.30" fill="#000"/>
<text transform="translate(96.82,678.80) scale(1.0278,1)" font-size="11.2" font-weight="normal"><tspan font-size="11.2">CD3</tspan><tspan font-size="9.5" dx="0.8" baseline-shift="6.0">+</tspan></text>
<text transform="translate(191.85,679.50) scale(0.9746,1)" font-size="11.2" font-weight="normal"><tspan font-size="11.2">GR1</tspan><tspan font-size="9.5" dx="2.0" baseline-shift="6.0">+</tspan></text>
<circle cx="68.10" cy="519.00" r="2.5" fill="#fff" stroke="#000" stroke-width="2.5"/>
<circle cx="71.90" cy="520.50" r="2.5" fill="#fff" stroke="#000" stroke-width="2.5"/>
<circle cx="71.90" cy="546.50" r="2.5" fill="#fff" stroke="#000" stroke-width="2.5"/>
<line x1="63.90" y1="528.60" x2="80.00" y2="528.60" stroke="#000" stroke-width="2"/>
<circle cx="92.00" cy="539.80" r="3.2" fill="#000"/>
<circle cx="96.30" cy="543.40" r="3.2" fill="#000"/>
<circle cx="96.30" cy="563.00" r="3.2" fill="#000"/>
<line x1="88.20" y1="549.10" x2="104.30" y2="549.10" stroke="#000" stroke-width="2"/>
<circle cx="115.90" cy="515.90" r="2.6" fill="#fff" stroke="#a5a5a5" stroke-width="2.1"/>
<circle cx="120.60" cy="516.90" r="2.6" fill="#fff" stroke="#a5a5a5" stroke-width="2.1"/>
<circle cx="120.20" cy="556.70" r="2.6" fill="#fff" stroke="#a5a5a5" stroke-width="2.1"/>
<line x1="112.10" y1="530.00" x2="128.40" y2="530.00" stroke="#000" stroke-width="2"/>
<circle cx="144.30" cy="533.80" r="3.2" fill="#b0b0b0"/>
<circle cx="144.30" cy="565.20" r="3.2" fill="#b0b0b0"/>
<line x1="136.40" y1="549.70" x2="152.90" y2="549.70" stroke="#000" stroke-width="2"/>
<circle cx="168.60" cy="570.50" r="2.5" fill="#fff" stroke="#000" stroke-width="2.5"/>
<circle cx="168.60" cy="586.40" r="2.5" fill="#fff" stroke="#000" stroke-width="2.5"/>
<circle cx="168.60" cy="601.80" r="2.5" fill="#fff" stroke="#000" stroke-width="2.5"/>
<line x1="160.60" y1="586.00" x2="176.40" y2="586.00" stroke="#000" stroke-width="2"/>
<circle cx="188.70" cy="581.30" r="3.2" fill="#000"/>
<circle cx="192.90" cy="584.90" r="3.2" fill="#000"/>
<circle cx="192.90" cy="598.20" r="3.2" fill="#000"/>
<line x1="184.50" y1="588.10" x2="200.80" y2="588.10" stroke="#000" stroke-width="2"/>
<circle cx="212.80" cy="567.60" r="2.6" fill="#fff" stroke="#a5a5a5" stroke-width="2.1"/>
<circle cx="216.60" cy="574.80" r="2.6" fill="#fff" stroke="#a5a5a5" stroke-width="2.1"/>
<circle cx="216.60" cy="587.70" r="2.6" fill="#fff" stroke="#a5a5a5" stroke-width="2.1"/>
<line x1="208.60" y1="576.90" x2="225.10" y2="576.90" stroke="#000" stroke-width="2"/>
<circle cx="241.00" cy="559.10" r="3.2" fill="#b0b0b0"/>
<circle cx="241.00" cy="604.60" r="3.2" fill="#b0b0b0"/>
<line x1="232.50" y1="581.70" x2="249.40" y2="581.70" stroke="#000" stroke-width="2"/>
<text transform="translate(278.71,483.30) scale(0.8105,1)" font-size="15" font-weight="bold" font-style="normal" fill="#000">F</text>
<text transform="translate(316.77,482.3) scale(1.0948,1)" font-size="11.6" font-weight="bold">Peripheral blood neutrophil count</text>
<line x1="322.80" y1="490.00" x2="322.80" y2="617.00" stroke="#000" stroke-width="1.9"/>
<line x1="319.20" y1="617.00" x2="512.70" y2="617.00" stroke="#000" stroke-width="1.9"/>
<line x1="319.20" y1="617.00" x2="322.80" y2="617.00" stroke="#000" stroke-width="1.5"/>
<text transform="translate(310.75,620.40) scale(0.9500,1)" font-size="8.6" font-weight="mid" font-style="normal" fill="#000">0</text>
<line x1="319.20" y1="575.10" x2="322.80" y2="575.10" stroke="#000" stroke-width="1.5"/>
<text transform="translate(306.22,578.50) scale(0.9500,1)" font-size="8.6" font-weight="mid" font-style="normal" fill="#000">20</text>
<line x1="319.20" y1="533.20" x2="322.80" y2="533.20" stroke="#000" stroke-width="1.5"/>
<text transform="translate(306.22,536.60) scale(0.9500,1)" font-size="8.6" font-weight="mid" font-style="normal" fill="#000">40</text>
<line x1="319.20" y1="491.30" x2="322.80" y2="491.30" stroke="#000" stroke-width="1.5"/>
<text transform="translate(306.22,494.70) scale(0.9500,1)" font-size="8.6" font-weight="mid" font-style="normal" fill="#000">60</text>
<line x1="334.20" y1="617.00" x2="334.20" y2="620.60" stroke="#000" stroke-width="1.5"/>
<line x1="358.06" y1="617.00" x2="358.06" y2="620.60" stroke="#000" stroke-width="1.5"/>
<line x1="381.92" y1="617.00" x2="381.92" y2="620.60" stroke="#000" stroke-width="1.5"/>
<line x1="405.78" y1="617.00" x2="405.78" y2="620.60" stroke="#000" stroke-width="1.5"/>
<line x1="429.64" y1="617.00" x2="429.64" y2="620.60" stroke="#000" stroke-width="1.5"/>
<line x1="453.50" y1="617.00" x2="453.50" y2="620.60" stroke="#000" stroke-width="1.5"/>
<line x1="477.36" y1="617.00" x2="477.36" y2="620.60" stroke="#000" stroke-width="1.5"/>
<line x1="501.22" y1="617.00" x2="501.22" y2="620.60" stroke="#000" stroke-width="1.5"/>
<text transform="translate(287.40,589.45) rotate(-90) scale(1.0250,1)" font-size="9.8" font-weight="bold">% Neutrophils in</text>
<text transform="translate(299.50,589.86) rotate(-90) scale(1.0303,1)" font-size="9.8" font-weight="bold">peripheral blood</text>
<text transform="translate(328.07,640.00) scale(1.0800,1)" font-size="9.5" font-weight="bold" font-style="normal" fill="#000">+/-</text>
<text transform="translate(328.07,657.00) scale(1.0800,1)" font-size="9.5" font-weight="bold" font-style="normal" fill="#000">+/-</text>
<text transform="translate(351.93,640.00) scale(1.0800,1)" font-size="9.5" font-weight="bold" font-style="normal" fill="#000">+/-</text>
<text transform="translate(350.65,657.00) scale(1.0800,1)" font-size="9.5" font-weight="bold" font-style="normal" fill="#000">+/+</text>
<text transform="translate(377.07,640.00) scale(1.0800,1)" font-size="9.5" font-weight="bold" font-style="normal" fill="#000">-/-</text>
<text transform="translate(375.79,657.00) scale(1.0800,1)" font-size="9.5" font-weight="bold" font-style="normal" fill="#000">+/-</text>
<text transform="translate(400.93,640.00) scale(1.0800,1)" font-size="9.5" font-weight="bold" font-style="normal" fill="#000">-/-</text>
<text transform="translate(398.37,657.00) scale(1.0800,1)" font-size="9.5" font-weight="bold" font-style="normal" fill="#000">+/+</text>
<text transform="translate(423.51,640.00) scale(1.0800,1)" font-size="9.5" font-weight="bold" font-style="normal" fill="#000">+/-</text>
<text transform="translate(423.51,657.00) scale(1.0800,1)" font-size="9.5" font-weight="bold" font-style="normal" fill="#000">+/-</text>
<text transform="translate(447.37,640.00) scale(1.0800,1)" font-size="9.5" font-weight="bold" font-style="normal" fill="#000">+/-</text>
<text transform="translate(446.09,657.00) scale(1.0800,1)" font-size="9.5" font-weight="bold" font-style="normal" fill="#000">+/+</text>
<text transform="translate(472.51,640.00) scale(1.0800,1)" font-size="9.5" font-weight="bold" font-style="normal" fill="#000">-/-</text>
<text transform="translate(471.23,657.00) scale(1.0800,1)" font-size="9.5" font-weight="bold" font-style="normal" fill="#000">+/-</text>
<text transform="translate(496.37,640.00) scale(1.0800,1)" font-size="9.5" font-weight="bold" font-style="normal" fill="#000">-/-</text>
<text transform="translate(493.81,657.00) scale(1.0800,1)" font-size="9.5" font-weight="bold" font-style="normal" fill="#000">+/+</text>
<text transform="translate(273.88,640.00) scale(1.1174,1)" font-size="10.3" font-weight="normal" font-style="italic" fill="#000">mCG-PR</text>
<text transform="translate(298.71,657.00) scale(1.0934,1)" font-size="10.3" font-weight="normal" font-style="italic" fill="#000">Rara</text>
<text transform="translate(353.28,680.30) scale(0.9896,1)" font-size="11.2" font-weight="normal" font-style="normal" fill="#000">4 months</text>
<text transform="translate(446.34,680.30) scale(0.9992,1)" font-size="11.2" font-weight="normal" font-style="normal" fill="#000">6 months</text>
<circle cx="330.50" cy="532.10" r="2.1" fill="#fff" stroke="#000" stroke-width="2.6"/>
<circle cx="338.20" cy="536.20" r="2.1" fill="#fff" stroke="#000" stroke-width="2.6"/>
<circle cx="334.50" cy="539.30" r="2.1" fill="#fff" stroke="#000" stroke-width="2.6"/>
<circle cx="330.70" cy="557.40" r="2.1" fill="#fff" stroke="#000" stroke-width="2.6"/>
<circle cx="333.20" cy="556.20" r="2.1" fill="#fff" stroke="#000" stroke-width="2.6"/>
<circle cx="338.80" cy="558.70" r="2.1" fill="#fff" stroke="#000" stroke-width="2.6"/>
<circle cx="330.10" cy="561.10" r="2.1" fill="#fff" stroke="#000" stroke-width="2.6"/>
<circle cx="335.70" cy="561.10" r="2.1" fill="#fff" stroke="#000" stroke-width="2.6"/>
<circle cx="330.70" cy="567.40" r="2.1" fill="#fff" stroke="#000" stroke-width="2.6"/>
<circle cx="334.50" cy="570.50" r="2.1" fill="#fff" stroke="#000" stroke-width="2.6"/>
<circle cx="338.80" cy="569.30" r="2.1" fill="#fff" stroke="#000" stroke-width="2.6"/>
<circle cx="333.80" cy="564.90" r="2.1" fill="#fff" stroke="#000" stroke-width="2.6"/>
<circle cx="337.60" cy="564.30" r="2.1" fill="#fff" stroke="#000" stroke-width="2.6"/>
<circle cx="330.50" cy="581.10" r="2.1" fill="#fff" stroke="#000" stroke-width="2.6"/>
<circle cx="334.50" cy="588.00" r="2.1" fill="#fff" stroke="#000" stroke-width="2.6"/>
<circle cx="334.50" cy="599.80" r="2.1" fill="#fff" stroke="#000" stroke-width="2.6"/>
<circle cx="358.20" cy="528.10" r="3.1" fill="#000"/>
<circle cx="354.70" cy="544.30" r="3.1" fill="#000"/>
<circle cx="358.20" cy="551.20" r="3.1" fill="#000"/>
<circle cx="360.70" cy="553.70" r="3.1" fill="#000"/>
<circle cx="354.40" cy="557.40" r="3.1" fill="#000"/>
<circle cx="361.90" cy="558.70" r="3.1" fill="#000"/>
<circle cx="358.80" cy="559.90" r="3.1" fill="#000"/>
<circle cx="361.50" cy="563.50" r="3.1" fill="#000"/>
<circle cx="354.40" cy="568.00" r="3.1" fill="#000"/>
<circle cx="358.20" cy="569.90" r="3.1" fill="#000"/>
<circle cx="361.90" cy="573.60" r="3.1" fill="#000"/>
<circle cx="358.20" cy="577.40" r="3.1" fill="#000"/>
<circle cx="358.20" cy="586.70" r="3.1" fill="#000"/>
<circle cx="358.20" cy="594.80" r="3.1" fill="#000"/>
<circle cx="384.00" cy="533.10" r="2.4" fill="#fff" stroke="#a5a5a5" stroke-width="2.0"/>
<circle cx="378.50" cy="536.20" r="2.4" fill="#fff" stroke="#a5a5a5" stroke-width="2.0"/>
<circle cx="386.00" cy="537.70" r="2.4" fill="#fff" stroke="#a5a5a5" stroke-width="2.0"/>
<circle cx="382.20" cy="540.50" r="2.4" fill="#fff" stroke="#a5a5a5" stroke-width="2.0"/>
<circle cx="386.00" cy="547.40" r="2.4" fill="#fff" stroke="#a5a5a5" stroke-width="2.0"/>
<circle cx="378.10" cy="549.90" r="2.4" fill="#fff" stroke="#a5a5a5" stroke-width="2.0"/>
<circle cx="382.50" cy="553.50" r="2.4" fill="#fff" stroke="#a5a5a5" stroke-width="2.0"/>
<circle cx="378.70" cy="558.60" r="2.4" fill="#fff" stroke="#a5a5a5" stroke-width="2.0"/>
<circle cx="386.00" cy="559.90" r="2.4" fill="#fff" stroke="#a5a5a5" stroke-width="2.0"/>
<circle cx="382.50" cy="562.40" r="2.4" fill="#fff" stroke="#a5a5a5" stroke-width="2.0"/>
<circle cx="378.50" cy="567.40" r="2.4" fill="#fff" stroke="#a5a5a5" stroke-width="2.0"/>
<circle cx="382.50" cy="573.00" r="2.4" fill="#fff" stroke="#a5a5a5" stroke-width="2.0"/>
<circle cx="386.00" cy="575.50" r="2.4" fill="#fff" stroke="#a5a5a5" stroke-width="2.0"/>
<circle cx="382.20" cy="583.60" r="2.4" fill="#fff" stroke="#a5a5a5" stroke-width="2.0"/>
<circle cx="406.20" cy="519.70" r="3.1" fill="#b0b0b0"/>
<circle cx="404.90" cy="537.40" r="3.1" fill="#b0b0b0"/>
<circle cx="407.40" cy="538.00" r="3.1" fill="#b0b0b0"/>
<circle cx="401.80" cy="542.40" r="3.1" fill="#b0b0b0"/>
<circle cx="406.20" cy="541.80" r="3.1" fill="#b0b0b0"/>
<circle cx="409.90" cy="543.00" r="3.1" fill="#b0b0b0"/>
<circle cx="403.70" cy="546.20" r="3.1" fill="#b0b0b0"/>
<circle cx="408.70" cy="546.20" r="3.1" fill="#b0b0b0"/>
<circle cx="402.40" cy="558.00" r="3.1" fill="#b0b0b0"/>
<circle cx="406.20" cy="556.80" r="3.1" fill="#b0b0b0"/>
<circle cx="409.90" cy="558.60" r="3.1" fill="#b0b0b0"/>
<circle cx="406.20" cy="563.60" r="3.1" fill="#b0b0b0"/>
<circle cx="402.40" cy="568.60" r="3.1" fill="#b0b0b0"/>
<circle cx="409.90" cy="570.50" r="3.1" fill="#b0b0b0"/>
<circle cx="406.20" cy="573.60" r="3.1" fill="#b0b0b0"/>
<circle cx="426.10" cy="537.40" r="2.1" fill="#fff" stroke="#000" stroke-width="2.6"/>
<circle cx="433.60" cy="536.20" r="2.1" fill="#fff" stroke="#000" stroke-width="2.6"/>
<circle cx="429.80" cy="539.90" r="2.1" fill="#fff" stroke="#000" stroke-width="2.6"/>
<circle cx="426.10" cy="547.40" r="2.1" fill="#fff" stroke="#000" stroke-width="2.6"/>
<circle cx="434.00" cy="548.00" r="2.1" fill="#fff" stroke="#000" stroke-width="2.6"/>
<circle cx="429.80" cy="549.90" r="2.1" fill="#fff" stroke="#000" stroke-width="2.6"/>
<circle cx="426.10" cy="558.60" r="2.1" fill="#fff" stroke="#000" stroke-width="2.6"/>
<circle cx="434.00" cy="556.70" r="2.1" fill="#fff" stroke="#000" stroke-width="2.6"/>
<circle cx="429.80" cy="561.70" r="2.1" fill="#fff" stroke="#000" stroke-width="2.6"/>
<circle cx="429.80" cy="554.50" r="2.1" fill="#fff" stroke="#000" stroke-width="2.6"/>
<circle cx="429.80" cy="577.30" r="2.1" fill="#fff" stroke="#000" stroke-width="2.6"/>
<circle cx="433.60" cy="574.80" r="2.1" fill="#fff" stroke="#000" stroke-width="2.6"/>
<circle cx="453.50" cy="513.50" r="3.1" fill="#000"/>
<circle cx="457.30" cy="549.90" r="3.1" fill="#000"/>
<circle cx="453.50" cy="553.00" r="3.1" fill="#000"/>
<circle cx="450.40" cy="557.40" r="3.1" fill="#000"/>
<circle cx="449.20" cy="561.70" r="3.1" fill="#000"/>
<circle cx="453.50" cy="559.90" r="3.1" fill="#000"/>
<circle cx="457.90" cy="561.10" r="3.1" fill="#000"/>
<circle cx="453.50" cy="570.50" r="3.1" fill="#000"/>
<circle cx="481.20" cy="519.30" r="2.4" fill="#fff" stroke="#a5a5a5" stroke-width="2.0"/>
<circle cx="477.50" cy="523.10" r="2.4" fill="#fff" stroke="#a5a5a5" stroke-width="2.0"/>
<circle cx="477.50" cy="534.90" r="2.4" fill="#fff" stroke="#a5a5a5" stroke-width="2.0"/>
<circle cx="475.00" cy="538.00" r="2.4" fill="#fff" stroke="#a5a5a5" stroke-width="2.0"/>
<circle cx="480.00" cy="538.00" r="2.4" fill="#fff" stroke="#a5a5a5" stroke-width="2.0"/>
<circle cx="472.50" cy="540.50" r="2.4" fill="#fff" stroke="#a5a5a5" stroke-width="2.0"/>
<circle cx="482.50" cy="540.50" r="2.4" fill="#fff" stroke="#a5a5a5" stroke-width="2.0"/>
<circle cx="473.70" cy="549.30" r="2.4" fill="#fff" stroke="#a5a5a5" stroke-width="2.0"/>
<circle cx="481.20" cy="548.00" r="2.4" fill="#fff" stroke="#a5a5a5" stroke-width="2.0"/>
<circle cx="477.50" cy="554.30" r="2.4" fill="#fff" stroke="#a5a5a5" stroke-width="2.0"/>
<circle cx="481.20" cy="559.20" r="2.4" fill="#fff" stroke="#a5a5a5" stroke-width="2.0"/>
<circle cx="477.50" cy="562.40" r="2.4" fill="#fff" stroke="#a5a5a5" stroke-width="2.0"/>
<circle cx="501.20" cy="515.60" r="3.1" fill="#b0b0b0"/>
<circle cx="497.70" cy="532.40" r="3.1" fill="#b0b0b0"/>
<circle cx="501.40" cy="537.70" r="3.1" fill="#b0b0b0"/>
<circle cx="497.40" cy="543.00" r="3.1" fill="#b0b0b0"/>
<circle cx="504.90" cy="543.70" r="3.1" fill="#b0b0b0"/>
<circle cx="501.20" cy="550.50" r="3.1" fill="#b0b0b0"/>
<circle cx="497.70" cy="553.50" r="3.1" fill="#b0b0b0"/>
<circle cx="504.50" cy="552.50" r="3.1" fill="#b0b0b0"/>
<circle cx="501.20" cy="556.00" r="3.1" fill="#b0b0b0"/>
<circle cx="501.20" cy="566.10" r="3.1" fill="#b0b0b0"/>
<circle cx="504.90" cy="564.20" r="3.1" fill="#b0b0b0"/>
<line x1="326.70" y1="563.40" x2="342.60" y2="563.40" stroke="#000" stroke-width="2"/>
<line x1="350.00" y1="563.90" x2="366.60" y2="563.90" stroke="#000" stroke-width="2"/>
<line x1="374.40" y1="555.10" x2="389.70" y2="555.10" stroke="#000" stroke-width="2"/>
<line x1="398.00" y1="550.50" x2="413.90" y2="550.50" stroke="#000" stroke-width="2"/>
<line x1="422.40" y1="553.40" x2="438.00" y2="553.40" stroke="#000" stroke-width="2"/>
<line x1="446.00" y1="553.60" x2="461.00" y2="553.60" stroke="#000" stroke-width="2"/>
<line x1="469.40" y1="542.80" x2="485.60" y2="542.80" stroke="#000" stroke-width="2"/>
<line x1="493.40" y1="548.00" x2="509.30" y2="548.00" stroke="#000" stroke-width="2"/>
</svg>
</body></html>
